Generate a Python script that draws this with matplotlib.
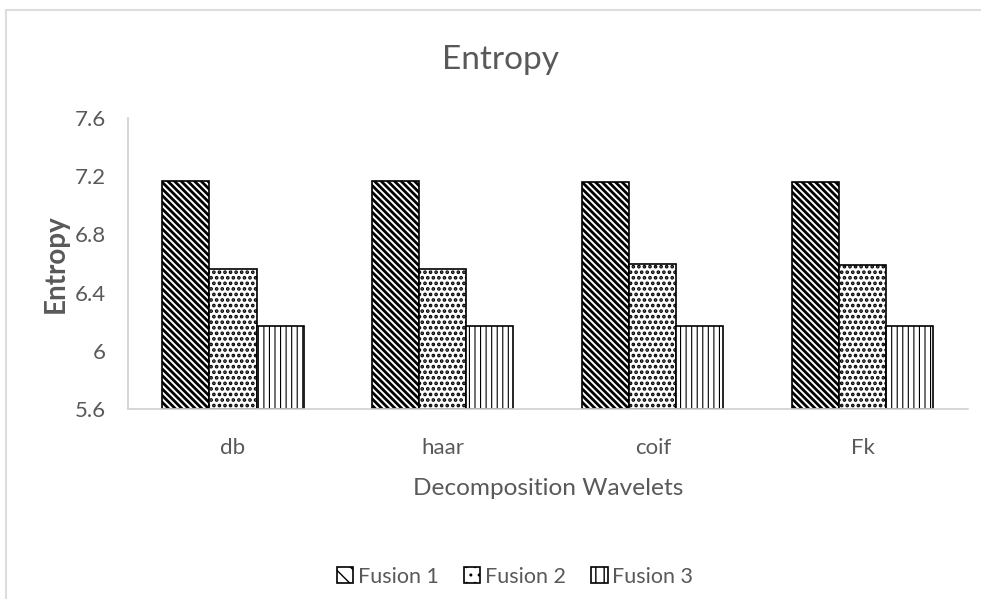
import matplotlib.pyplot as plt
import matplotlib.patches as mpatches
import numpy as np

# Entropy of the three fusion schemes for each wavelet family
wavelets = ['db', 'haar', 'coif', 'Fk']
fusion1 = [7.17, 7.17, 7.16, 7.16]
fusion2 = [6.56, 6.56, 6.60, 6.59]
fusion3 = [6.17, 6.17, 6.17, 6.17]
series_names = ['Fusion 1', 'Fusion 2', 'Fusion 3']
yticks = [5.6, 6.0, 6.4, 6.8, 7.2, 7.6]
ytick_labels = ['5.6', '6', '6.4', '6.8', '7.2', '7.6']

plt.rcParams['font.family'] = ['Lato', 'DejaVu Sans']
grey = '#595959'

fig = plt.figure(figsize=(9.81, 5.99), dpi=100)
ax = fig.add_axes([0.1305, 0.317, 0.856, 0.486])

x = np.arange(len(wavelets))
w = 0.224
hatches = ['\\\\\\\\\\', '...', '|||']
hatch_lw = [2.0, 1.8, 0.8]
series = [fusion1, fusion2, fusion3]

handles = []
for i, vals in enumerate(series):
    with plt.rc_context({'hatch.linewidth': hatch_lw[i], 'hatch.color': 'black'}):
        ax.bar(x + (i - 1) * w, np.array(vals) - 5.6, w, bottom=5.6,
               color='white', edgecolor='black', linewidth=1.2,
               hatch=hatches[i], label=series_names[i])
        handles.append(mpatches.Patch(facecolor='white', edgecolor='black',
                                      linewidth=1.2, hatch=hatches[i][:2],
                                      label=series_names[i]))

ax.set_xlim(-0.5, 3.5)
ax.set_ylim(5.6, 7.6)
ax.set_yticks(yticks)
ax.set_yticklabels(ytick_labels)
ax.set_xticks(x)
ax.set_xticklabels(wavelets)
ax.tick_params(axis='y', length=0, pad=16, labelsize=16, labelcolor=grey)
ax.tick_params(axis='x', length=0, pad=21, labelsize=16, labelcolor=grey)

for s in ['top', 'right']:
    ax.spines[s].set_visible(False)
for s in ['left', 'bottom']:
    ax.spines[s].set_color('#d0d0d0')
    ax.spines[s].set_linewidth(1.2)

ax.set_ylabel('Entropy', fontsize=20, fontweight='bold', color=grey, labelpad=4)
ax.set_xlabel('Decomposition Wavelets', fontsize=17.6, color=grey, labelpad=14)

fig.text(0.51, 0.90, 'Entropy', fontsize=24, color=grey, ha='center', va='center')

fig.legend(handles=handles, loc='center', bbox_to_anchor=(0.525, 0.037), ncol=3,
           frameon=False, fontsize=15.5, labelcolor=grey, handlelength=0.75,
           handleheight=0.75, handletextpad=0.2, columnspacing=1.2)

# faint frame around the chart area
fig.add_artist(plt.Line2D([0.006, 1.0], [0.983, 0.983], color='#dddddd', lw=1.5))
fig.add_artist(plt.Line2D([0.006, 0.006], [0.0, 0.983], color='#dddddd', lw=1.5))

fig.savefig('out.png', dpi=100)
